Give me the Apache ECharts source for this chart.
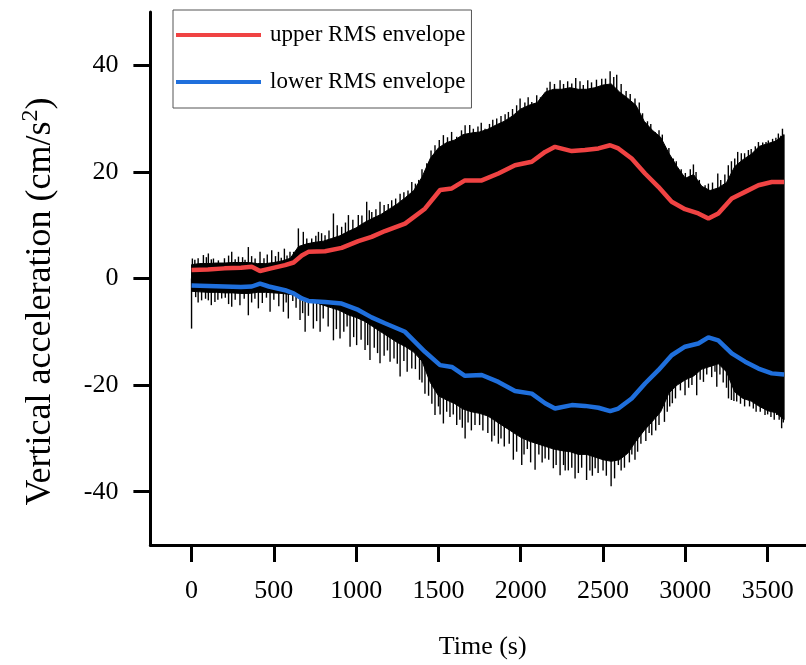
<!DOCTYPE html>
<html>
<head>
<meta charset="utf-8">
<script src="https://cdn.jsdelivr.net/npm/echarts@6/dist/echarts.min.js"></script>
<style>
  html, body { margin: 0; padding: 0; background: #fff; }
  #chart { width: 806px; height: 665px; }
</style>
</head>
<body>
<div id="chart"></div>
<script>
// Tick positions
const xTicks = [0, 500, 1000, 1500, 2000, 2500, 3000, 3500];
const yTicks = [-40, -20, 0, 20, 40];

// Dense acceleration record: upper / lower edge of the oscillation band (cm/s^2)
const bodyTime = [
  0, 50, 100, 150, 200, 250, 300, 350, 400, 450, 500, 550, 600,
  650, 700, 750, 800, 850, 900, 950, 1000, 1050, 1100, 1150, 1200,
  1250, 1300, 1350, 1400, 1450, 1500, 1550, 1600, 1650, 1700, 1750, 1800,
  1850, 1900, 1950, 2000, 2050, 2100, 2150, 2200, 2250, 2300, 2350, 2400,
  2450, 2500, 2550, 2600, 2650, 2700, 2750, 2800, 2850, 2900, 2950, 3000,
  3050, 3100, 3150, 3200, 3250, 3300, 3350, 3400, 3450, 3500, 3550, 3600
];
const bodyTop = [
  2.6, 2.8, 2.8, 2.9, 2.9, 3.0, 3.0, 3.0, 2.8, 2.8, 3.0, 3.3, 3.8,
  6.0, 6.5, 6.8, 7.0, 7.5, 8.0, 8.8, 9.5, 10.5, 11.3, 12.0, 13.0,
  14.0, 15.2, 16.5, 19.0, 22.5, 24.5, 25.5, 26.0, 27.0, 27.3, 27.5, 28.0,
  28.8, 29.5, 30.5, 31.8, 32.5, 33.0, 35.0, 35.5, 35.5, 35.8, 35.5, 35.5,
  35.8, 36.3, 36.5, 35.0, 33.8, 32.5, 29.5, 27.8, 26.5, 23.5, 21.0, 18.8,
  19.5, 17.3, 16.5, 17.0, 18.0, 21.0, 22.3, 23.3, 24.8, 25.3, 25.8, 27.0
];
const bodyBottom = [
  -2.4, -2.5, -2.6, -2.6, -2.7, -2.7, -2.8, -2.8, -2.6, -2.6, -2.7, -2.8, -3.0,
  -3.3, -4.0, -4.5, -5.0, -5.5, -6.0, -6.8, -7.3, -8.0, -9.0, -10.0, -11.0,
  -12.0, -12.8, -13.8, -15.5, -19.5, -22.0, -22.8, -23.5, -24.5, -25.0, -25.3, -25.8,
  -26.8, -27.8, -28.8, -29.8, -30.5, -31.0, -31.5, -32.0, -32.3, -32.5, -33.0, -33.0,
  -33.5, -34.0, -34.3, -34.0, -32.8, -30.5, -28.5, -26.8, -25.0, -21.5, -20.0, -19.0,
  -18.3, -17.0, -16.5, -16.0, -17.5, -21.3, -22.5, -23.0, -24.0, -24.8, -25.2, -26.5
];

// Tall individual peaks standing out of the band
const peakTime = [
  5, 72, 102, 133, 163, 244, 285, 345, 386, 416, 487, 528, 564, 598,
  649, 679, 730, 771, 811, 862, 912, 953, 1013, 1064, 1095, 1145,
  1216, 1267, 1338, 1429, 1479, 1530, 1611, 1662, 1712, 1783, 1854, 1925,
  1996, 2067, 2097, 2178, 2239, 2334, 2407, 2492, 2543, 2583, 2694, 2816,
  2877, 2927, 3049, 3120, 3197, 3261, 3318, 3383, 3444, 3504, 3565, 3590,
  0, 61, 102, 142, 183, 244, 294, 345, 406, 477, 558, 588,
  659, 690, 740, 781, 862, 902, 963, 1003, 1054, 1084, 1145,
  1206, 1267, 1338, 1418, 1479, 1530, 1611, 1662, 1722, 1824, 1864, 1955,
  2006, 2087, 2148, 2198, 2239, 2289, 2330, 2400, 2452, 2549, 2593, 2694,
  2796, 2873, 2921, 2998, 3069, 3110, 3191, 3262, 3312, 3413, 3484, 3555, 3585
];
const peakValue = [
  3.75, 4.4, 4.7, 3.75, 3.4, 5.0, 4.1, 5.9, 3.75, 5.0, 5.3, 5.0, 5.6, 5.0,
  9.4, 8.75, 7.5, 8.75, 8.1, 12.2, 9.7, 11.9, 11.9, 14.4, 12.5, 14.4,
  14.7, 15.9, 18.1, 21.6, 25.0, 26.9, 26.6, 28.75, 28.1, 28.1, 30.0, 31.25,
  33.75, 33.1, 34.4, 36.9, 37.2, 37.6, 37.2, 37.5, 38.9, 38.25, 33.75, 27.5,
  24.7, 22.5, 21.4, 17.5, 19.7, 21.25, 23.75, 24.1, 25.6, 25.9, 27.2, 28.1,
  -9.4, -4.1, -4.1, -4.4, -3.75, -5.3, -5.0, -6.9, -5.6, -6.25, -6.25, -7.5,
  -7.8, -10.0, -9.4, -10.0, -11.6, -11.25, -12.8, -12.5, -13.4, -15.3, -15.9,
  -15.6, -18.4, -16.9, -21.6, -25.6, -27.2, -27.5, -30.0, -27.5, -30.6, -31.0, -34.0,
  -35.0, -35.9, -33.75, -35.6, -36.9, -36.0, -37.5, -37.8, -35.6, -39.0, -35.0, -34.0,
  -29.4, -26.9, -23.4, -21.9, -21.9, -19.4, -20.3, -22.5, -23.1, -24.4, -25.6, -25.6, -28.1
];

// Smaller ripples along the ragged edges of the band
const rippleTime = [
  20, 40, 90, 120, 200, 225, 265, 310, 325, 365, 440, 460, 510, 545, 580, 620,
  700, 755, 790, 835, 885, 935, 980, 1035, 1080, 1120, 1170, 1195, 1240, 1290, 1315, 1360, 1380,
  1400, 1455, 1505, 1555, 1580, 1640, 1690, 1740, 1760, 1810, 1830, 1880, 1905, 1950, 1975,
  2025, 2045, 2120, 2160, 2205, 2260, 2285, 2310, 2360, 2380, 2430, 2460, 2515, 2565, 2610,
  2640, 2665, 2720, 2740, 2770, 2790, 2840, 2860, 2900, 2945, 2975, 3000, 3030, 3065, 3085,
  3140, 3165, 3215, 3240, 3280, 3300, 3340, 3360, 3400, 3425, 3470, 3490, 3530, 3550, 3580,
  25, 40, 85, 120, 160, 205, 225, 265, 320, 365, 385, 430, 455, 500, 530, 575, 615, 635,
  675, 710, 760, 800, 830, 880, 925, 945, 985, 1030, 1070, 1110, 1130, 1170, 1190, 1230,
  1250, 1290, 1310, 1360, 1385, 1400,
  1440, 1460, 1500, 1510, 1550, 1570, 1590, 1630, 1645, 1680, 1700, 1750, 1770, 1800, 1840,
  1880, 1900, 1930, 1975, 2020, 2040, 2060, 2110, 2130, 2170, 2215, 2260, 2270, 2310, 2350,
  2370, 2420, 2435, 2470, 2500, 2520, 2570, 2610, 2630, 2660, 2675, 2710, 2730, 2760, 2780,
  2820, 2840, 2890, 2905, 2940, 2970, 3020, 3040, 3090, 3130, 3160, 3180, 3210, 3230, 3250,
  3280, 3295, 3335, 3360, 3390, 3430, 3455, 3500, 3520, 3540, 3570, 3595
];
const rippleValue = [
  3.5, 3.8, 4.0, 3.6, 3.8, 4.3, 3.6, 4.0, 3.5, 4.2, 3.8, 4.5, 4.2, 3.9, 4.3, 5.0,
  7.5, 8.0, 8.5, 9.0, 10.0, 10.5, 11.0, 11.8, 12.8, 13.0, 13.8, 14.0, 15.0, 16.2, 16.5, 17.8, 18.5,
  20.5, 24.0, 26.0, 26.5, 27.5, 27.8, 28.8, 28.5, 29.2, 29.0, 29.8, 30.5, 30.8, 31.8, 32.5,
  33.0, 34.0, 34.0, 35.8, 36.5, 36.5, 37.0, 36.6, 37.0, 36.3, 36.8, 37.3, 37.5, 37.8, 36.5,
  35.2, 34.6, 33.0, 31.0, 29.5, 29.0, 27.8, 27.0, 24.5, 22.0, 20.5, 19.8, 20.5, 20.0, 18.5,
  17.8, 18.0, 18.5, 19.5, 22.0, 22.5, 23.5, 23.5, 24.3, 24.8, 25.5, 25.6, 26.2, 26.4, 26.8,
  -3.5, -4.5, -3.8, -5.0, -4.0, -3.6, -4.8, -4.0, -3.8, -4.5, -3.8, -4.6, -3.6, -4.0, -5.2, -4.5, -4.2, -5.5,
  -6.5, -7.0, -8.0, -7.5, -9.0, -9.5, -10.0, -9.0, -11.0, -11.5, -12.5, -13.0, -14.0, -14.5, -13.5, -15.0,
  -16.0, -15.5, -17.5, -17.0, -19.0, -19.5,
  -22.0, -23.5, -24.0, -25.5, -25.0, -26.0, -25.5, -26.5, -28.0, -27.0, -28.5, -27.5, -28.5, -29.0, -29.5,
  -30.0, -31.5, -31.0, -32.5, -33.0, -32.0, -34.5, -33.0, -34.5, -34.0, -35.0, -35.0, -36.0, -35.5, -36.5,
  -35.5, -36.0, -37.0, -36.5, -36.0, -37.0, -37.5, -36.0, -35.5, -34.5, -33.0, -32.5, -31.0, -30.5, -29.0,
  -28.5, -27.5, -25.0, -24.0, -22.5, -21.0, -20.5, -20.0, -19.0, -18.0, -18.5, -17.5, -18.0, -19.5, -20.5,
  -22.8, -23.0, -23.5, -24.0, -24.0, -25.0, -25.0, -25.5, -26.0, -26.5, -26.5, -27.0
];

// Running RMS envelopes
const rmsTime = [
  0, 100, 200, 300, 366, 416, 470, 568, 620, 670, 710, 811, 912, 1013, 1094,
  1175, 1297, 1418, 1510, 1581, 1661, 1763, 1864, 1965, 2067, 2148, 2208, 2310,
  2390, 2472, 2543, 2593, 2674, 2755, 2836, 2917, 2998, 3079, 3140, 3200, 3282,
  3363, 3444, 3525, 3600
];
const rmsUpper = [
  1.6, 1.7, 1.9, 2.0, 2.2, 1.4, 1.8, 2.5, 3.0, 4.3, 5.0, 5.1, 5.75, 7.0, 7.8,
  8.9, 10.3, 13.1, 16.6, 16.9, 18.4, 18.4, 19.7, 21.25, 21.9, 23.75, 24.7, 23.9,
  24.1, 24.4, 25.0, 24.4, 22.5, 19.7, 17.2, 14.4, 13.0, 12.2, 11.25, 12.2, 15.0,
  16.25, 17.5, 18.1, 18.1
];
const rmsLower = [
  -1.3, -1.4, -1.5, -1.6, -1.5, -0.95, -1.5, -2.2, -2.8, -3.75, -4.2, -4.4, -4.7, -5.9, -7.3,
  -8.4, -10.0, -13.75, -16.25, -16.6, -18.25, -18.1, -19.4, -21.1, -21.6, -23.4, -24.4, -23.75,
  -23.9, -24.25, -24.9, -24.4, -22.5, -19.7, -17.2, -14.4, -12.8, -12.2, -11.06, -11.6, -14.06,
  -15.6, -16.9, -17.8, -18.0
];

const FONT = '"Liberation Serif", "Times New Roman", serif';
const pairs = (xs, ys) => xs.map((x, i) => [x, ys[i]]);

// vertical stroke from zero up/down to each peak value
function renderPeak(params, api) {
  const t = api.value(0);
  const p0 = api.coord([t, 0]);
  const p1 = api.coord([t, api.value(1)]);
  return {
    type: 'line',
    shape: { x1: p0[0], y1: p0[1], x2: p1[0], y2: p1[1] },
    style: { stroke: '#000', lineWidth: 1.4 }
  };
}

const chart = echarts.init(document.getElementById('chart'), null, { renderer: 'canvas' });

chart.setOption({
  animation: false,
  backgroundColor: '#fff',
  grid: { left: 150.4, right: 0, top: 12, bottom: 118, containLabel: false },
  legend: {
    orient: 'vertical',
    left: 173,
    top: 10,
    padding: [12, 6, 13, 3],
    borderColor: '#555',
    borderWidth: 1,
    backgroundColor: '#fff',
    itemWidth: 85,
    itemHeight: 4,
    itemGap: 21,
    icon: 'rect',
    selectedMode: false,
    data: ['upper RMS envelope', 'lower RMS envelope'],
    textStyle: { fontFamily: FONT, fontSize: 23, color: '#000', lineHeight: 26, padding: [0, 0, 0, 4] }
  },
  xAxis: {
    type: 'value',
    min: -250,
    max: 3733,
    name: 'Time (s)',
    nameLocation: 'middle',
    nameGap: 89,
    nameTextStyle: { fontFamily: FONT, fontSize: 26, color: '#000', padding: [0, 0, 0, 9] },
    splitLine: { show: false },
    axisLine: { onZero: false, lineStyle: { color: '#000', width: 3 } },
    axisTick: { show: true, length: 17, inside: false, customValues: xTicks, lineStyle: { color: '#000', width: 3 } },
    axisLabel: {
      customValues: xTicks, margin: 33, fontFamily: FONT, fontSize: 26, color: '#000',
      formatter: v => String(v)
    }
  },
  yAxis: {
    type: 'value',
    min: -50,
    max: 50,
    name: '{a|Vertical acceleration (cm/s}{b|2}{a|)}',
    nameLocation: 'middle',
    nameGap: 88,
    nameRotate: 90,
    nameTextStyle: {
      color: '#000',
      padding: [0, 46, 0, 0],
      rich: {
        a: { fontFamily: FONT, fontSize: 36, color: '#000', lineHeight: 44 },
        b: { fontFamily: FONT, fontSize: 24, color: '#000', verticalAlign: 'top', lineHeight: 44 }
      }
    },
    splitLine: { show: false },
    axisLine: { show: true, onZero: false, lineStyle: { color: '#000', width: 3 } },
    axisTick: { show: true, length: 17, inside: false, customValues: yTicks, lineStyle: { color: '#000', width: 3 } },
    axisLabel: { customValues: yTicks, margin: 32, fontFamily: FONT, fontSize: 26, color: '#000' }
  },
  series: [
    {
      // oscillation band drawn as one filled polygon through the axis scales
      name: 'band',
      type: 'custom',
      silent: true,
      encode: { x: 0, y: 1 },
      data: [[bodyTime[0], bodyTop[0]]],
      renderItem: function (params, api) {
        const pts = [];
        for (let i = 0; i < bodyTime.length; i++) pts.push(api.coord([bodyTime[i], bodyTop[i]]));
        for (let i = bodyTime.length - 1; i >= 0; i--) pts.push(api.coord([bodyTime[i], bodyBottom[i]]));
        return {
          type: 'polygon',
          shape: { points: pts },
          style: { fill: '#000', stroke: '#000', lineWidth: 1 }
        };
      },
      z: 1
    },
    {
      name: 'ripples',
      type: 'custom',
      silent: true,
      encode: { x: 0, y: 1 },
      data: pairs(rippleTime, rippleValue),
      renderItem: renderPeak,
      z: 2
    },
    {
      name: 'peaks',
      type: 'custom',
      silent: true,
      encode: { x: 0, y: 1 },
      data: pairs(peakTime, peakValue),
      renderItem: renderPeak,
      z: 2
    },
    {
      name: 'upper RMS envelope',
      type: 'line',
      symbol: 'none',
      color: '#f04343',
      lineStyle: { color: '#f04343', width: 4.5 },
      data: pairs(rmsTime, rmsUpper),
      z: 3
    },
    {
      name: 'lower RMS envelope',
      type: 'line',
      symbol: 'none',
      color: '#1f6fdc',
      lineStyle: { color: '#1f6fdc', width: 4.5 },
      data: pairs(rmsTime, rmsLower),
      z: 3
    }
  ]
});
</script>
</body>
</html>
